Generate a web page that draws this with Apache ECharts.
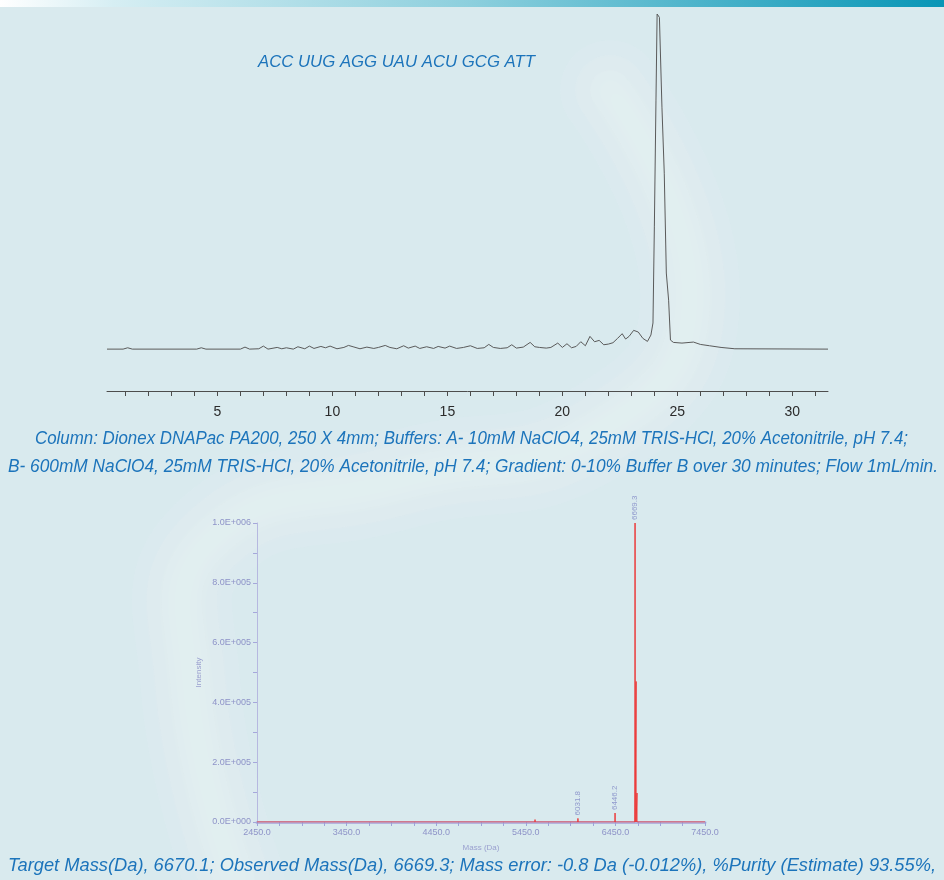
<!DOCTYPE html>
<html>
<head>
<meta charset="utf-8">
<script src="https://cdn.jsdelivr.net/npm/echarts@6/dist/echarts.min.js"></script>
<style>
  html, body { margin: 0; padding: 0; width: 944px; height: 880px; overflow: hidden; background: #d9eaee; }
  #main { position: absolute; left: 0; top: 0; width: 944px; height: 880px; }
  #ms { position: absolute; left: 0; top: 440px; width: 944px; height: 440px; filter: blur(0.5px); }
</style>
</head>
<body>
<div id="main"></div>
<div id="ms"></div>
<script>
// ---- Anion-exchange chromatogram: retention time (min) and detector signal (mAU) ----
const chromTime = [
  0.2, 0.9, 1.1, 1.3, 4.1, 4.3, 4.5, 6.0, 6.2, 6.4, 6.8, 7.0, 7.2, 7.6, 7.8, 8.0,
  8.3, 8.5, 8.8, 9.0, 9.2, 9.5, 9.7, 9.9, 10.2, 10.5, 10.7, 10.9, 11.2, 11.5, 11.8, 12.0,
  12.3, 12.5, 12.8, 13.1, 13.3, 13.6, 13.8, 14.1, 14.4, 14.6, 14.9, 15.1, 15.4, 15.7, 16.0, 16.3,
  16.6, 16.8, 17.0, 17.3, 17.6, 17.8, 18.0, 18.3, 18.6, 18.8, 19.0, 19.3, 19.5, 19.8, 20.0, 20.2,
  20.4, 20.6, 20.8, 21.0, 21.2, 21.4, 21.6, 21.8, 22.0, 22.2, 22.4, 22.6, 22.75, 22.9, 23.1, 23.3,
  23.5, 23.7, 23.85, 23.94, 24.0, 24.07, 24.12, 24.22, 24.33, 24.43, 24.52, 24.62, 24.7, 24.83, 25.2, 25.7,
  26.0, 26.4, 26.9, 27.5, 31.55
];
const chromSignal = [
  0, 0, 0.4, 0, 0, 0.4, 0, 0, 0.6, 0, 0.1, 0.9, 0, 0.5, 0.1, 0.4,
  0, 0.7, 0.1, 0.9, 0.2, 0.8, 0.4, 0.9, 0.1, 0.5, 1.1, 0.7, 0.1, 0.6, 0.2, 0.5,
  1.1, 0.5, 0.1, 1.0, 0.3, 0.9, 0.2, 0.7, 0.2, 0.8, 0.3, 0.9, 0.2, 0.5, 1.0, 0.2,
  0.4, 1.4, 0.5, 0.2, 0.4, 1.3, 0.3, 0.6, 2.0, 0.7, 0.5, 0.3, 0.5, 1.8, 0.5, 1.6,
  0.4, 0.8, 2.2, 1.0, 3.8, 2.2, 2.6, 1.3, 1.5, 1.9, 3.2, 4.6, 3.0, 3.8, 5.6, 5.1,
  3.2, 2.3, 4.2, 7.8, 36.7, 74.3, 100, 99, 72.2, 52.5, 22.7, 14.6, 2.7, 2.0, 1.8, 2.1,
  1.4, 1.0, 0.5, 0.1, 0
];
const chromTickLabels = [5, 10, 15, 20, 25, 30];

// ---- Deconvoluted mass spectrum: mass (Da) and intensity ----
const peakMass = [5553.0, 6031.8, 6446.2, 6669.3, 6681.0, 6691.0];
const peakIntensity = [8000, 12000, 30000, 1000000, 470000, 97000];
const annotatedMass = [6031.8, 6446.2, 6669.3];
const massTickLabels = [2450, 3450, 4450, 5450, 6450, 7450];
const intensityTickLabels = [0, 200000, 400000, 600000, 800000, 1000000];

// ---- Text ----
const sequenceText = 'ACC UUG AGG UAU ACU GCG ATT';
const captionLine1 = 'Column: Dionex DNAPac PA200, 250 X 4mm; Buffers: A- 10mM NaClO4, 25mM TRIS-HCl, 20% Acetonitrile, pH 7.4;';
const captionLine2 = 'B- 600mM NaClO4, 25mM TRIS-HCl, 20% Acetonitrile, pH 7.4; Gradient: 0-10% Buffer B over 30 minutes; Flow 1mL/min.';
const resultLine = 'Target Mass(Da), 6670.1; Observed Mass(Da), 6669.3; Mass error: -0.8 Da (-0.012%), %Purity (Estimate) 93.55%,';

// ---------------------------------------------------------------------------
const TEXT_BLUE = '#1c74bb';
const measureCtx = document.createElement('canvas').getContext('2d');
// horizontal squeeze so a line of text spans the wanted width (condensed face)
function squeeze(str, font, width) {
  measureCtx.font = font;
  return width / measureCtx.measureText(str).width;
}
function fittedText(str, size, cx, cy, width) {
  const font = 'italic ' + size + 'px "Liberation Sans", Arial, sans-serif';
  return {
    type: 'text', x: cx, y: cy, z: 10,
    scaleX: squeeze(str, font, width),
    style: { text: str, font: font, fill: TEXT_BLUE, align: 'center', verticalAlign: 'middle' }
  };
}

// soft backdrop swoosh, built from a few translucent strokes of decreasing width
const swooshPoints = [[610, 90], [690, 300], [600, 430], [400, 480], [210, 540], [190, 680], [235, 880]];
function swooshLayer(width, opacity) {
  return {
    type: 'polyline', z: -10, silent: true,
    shape: { points: swooshPoints, smooth: 0.5 },
    style: { fill: null, stroke: '#f1f8fa', lineWidth: width, opacity: opacity, lineCap: 'round',
             shadowBlur: 30, shadowColor: 'rgba(255,255,255,0.6)' }
  };
}

const minorChromTicks = [];
for (let t = 1; t <= 31; t++) minorChromTicks.push(t);

const main = echarts.init(document.getElementById('main'), null, { width: 944, height: 880 });
main.setOption({
  animation: false,
  backgroundColor: '#d9eaee',
  grid: [{ left: 107, right: 116, top: 14, bottom: 489 }],
  xAxis: [{
    type: 'value', min: 0.2, max: 31.55,
    axisLine: { onZero: false, lineStyle: { color: '#4d4d4d', width: 1 } },
    axisTick: { customValues: minorChromTicks, length: 5, lineStyle: { color: '#4d4d4d' } },
    axisLabel: { customValues: chromTickLabels, color: '#2b2b2b', fontSize: 14, margin: 14,
                 fontFamily: '"Liberation Sans", Arial, sans-serif' },
    splitLine: { show: false }
  }],
  yAxis: [{ type: 'value', min: -12.5, max: 100, show: false }],
  series: [{
    type: 'line', silent: true, showSymbol: false,
    data: chromTime.map((t, i) => [t, chromSignal[i]]),
    lineStyle: { color: '#5a5a5a', width: 1 }
  }],
  graphic: [
    swooshLayer(100, 0.08),
    swooshLayer(70, 0.1),
    swooshLayer(40, 0.12),
    // header band
    {
      type: 'rect', z: 5, shape: { x: 0, y: 0, width: 944, height: 7 },
      style: { fill: { type: 'linear', x: 0, y: 0, x2: 1, y2: 0, colorStops: [
        { offset: 0, color: '#ffffff' },
        { offset: 0.12, color: '#d6eef3' },
        { offset: 0.5, color: '#8ccfdd' },
        { offset: 1, color: '#0896b6' }
      ] } }
    },
    fittedText(sequenceText, 17, 396.5, 62, 277),
    fittedText(captionLine1, 19, 471.5, 439, 873),
    fittedText(captionLine2, 19, 473, 467, 930),
    fittedText(resultLine, 19, 472, 866, 928)
  ]
});

// ---- mass spectrum ----
const massMin = massTickLabels[0];
const massMax = massTickLabels[massTickLabels.length - 1];
const intensityMax = intensityTickLabels[intensityTickLabels.length - 1];
const massTicks = [];
for (let m = massMin; m <= massMax; m += 250) massTicks.push(m);
const intensityTicks = [];
for (let v = 0; v <= intensityMax; v += 100000) intensityTicks.push(v);

function sci(v) {
  if (v === 0) return '0.0E+000';
  const e = Math.floor(Math.log10(v));
  return (v / Math.pow(10, e)).toFixed(1) + 'E+' + String(e).padStart(3, '0');
}

// stick spectrum drawn as one polyline along the baseline
const stickData = [[massMin, 0]];
peakMass.forEach((m, i) => { stickData.push([m, 0], [m, peakIntensity[i]], [m, 0]); });
stickData.push([massMax, 0]);

const annotated = peakMass
  .map((m, i) => [m, peakIntensity[i]])
  .filter(p => annotatedMass.indexOf(p[0]) >= 0);

const ms = echarts.init(document.getElementById('ms'), null, { width: 944, height: 440 });
ms.setOption({
  animation: false,
  backgroundColor: 'transparent',
  grid: { left: 257, right: 239, top: 83, bottom: 58 },
  xAxis: {
    type: 'value', min: massMin, max: massMax,
    name: 'Mass (Da)', nameLocation: 'middle', nameGap: 22,
    nameTextStyle: { fontSize: 8, color: '#9aa0cf' },
    axisLine: { lineStyle: { color: '#b3b5df', width: 3 } },
    axisTick: { customValues: massTicks, length: 4, lineStyle: { color: '#9ea2d8' } },
    axisLabel: { customValues: massTickLabels, formatter: v => v.toFixed(1), fontSize: 9,
                 color: '#8e93c8', margin: 6 },
    splitLine: { show: false }
  },
  yAxis: {
    type: 'value', min: 0, max: intensityMax,
    name: 'Intensity', nameLocation: 'middle', nameGap: 54,
    nameTextStyle: { fontSize: 8, color: '#9aa0cf' },
    axisLine: { show: true, lineStyle: { color: '#b6b8e0', width: 1 } },
    axisTick: { show: true, customValues: intensityTicks, length: 4, lineStyle: { color: '#a5a8da' } },
    axisLabel: { customValues: intensityTickLabels, formatter: sci, fontSize: 9, color: '#8e93c8', margin: 6 },
    splitLine: { show: false }
  },
  series: [
    {
      type: 'line', silent: true, showSymbol: false, data: stickData,
      lineStyle: { color: '#ec3a3a', width: 1 }
    },
    {
      type: 'scatter', silent: true, symbolSize: 0, data: annotated,
      label: {
        show: true, position: 'top', distance: 3, rotate: 90, align: 'left', verticalAlign: 'middle',
        formatter: p => p.value[0].toFixed(1), fontSize: 8, color: '#7d84c4'
      }
    }
  ]
});
</script>
</body>
</html>
